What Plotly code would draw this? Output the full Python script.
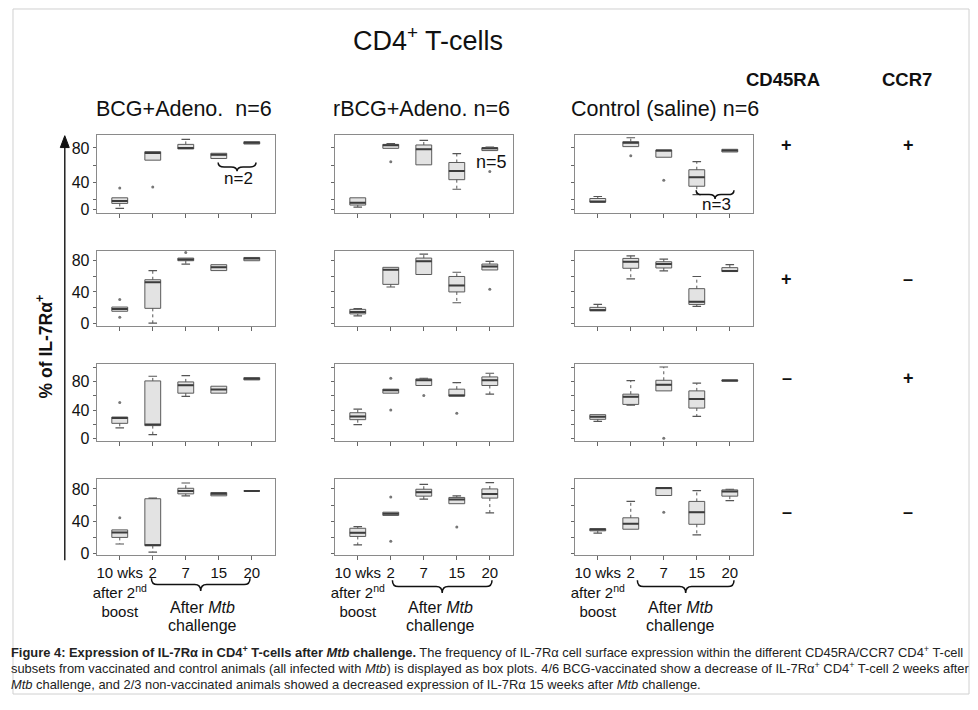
import plotly.graph_objects as go
from plotly.subplots import make_subplots

# page has an 8px body margin on every side; the figure fills the remaining area
OFF = 8
W, H = 978 - 2 * OFF, 710 - 2 * OFF
FONT = "Liberation Sans, Arial, sans-serif"

# ---------------- data ----------------
positions = [1, 2, 3, 4, 5]
x_tick_labels = ["10 wks<br>after 2<sup>nd</sup><br>boost", "2", "7", "15", "20"]
groups = ["BCG+Adeno. \u00a0n=6", "rBCG+Adeno. n=6", "Control (saline) n=6"]
subsets_cd45ra = ["+", "+", "\u2013", "\u2013"]
subsets_ccr7 = ["+", "\u2013", "+", "\u2013"]

# each panel: lists over the 5 time points -> (lower whisker, q1, median, q3, upper whisker)
# row 1 (CD45RA+ CCR7+)
r1c1_low = [9.9, 65.8, 78.8, 67.7, 84.5]
r1c1_q1 = [15.7, 65.8, 78.8, 67.7, 84.5]
r1c1_med = [18.4, 74.2, 79.9, 72.0, 86.0]
r1c1_q3 = [22.2, 75.7, 84.1, 73.8, 87.2]
r1c1_high = [22.2, 75.7, 89.9, 73.8, 87.2]
r1c1_out = [[33.6], [34.8], [], [], []]

r1c2_low = [11.5, 79.5, 60.4, 32.1, 76.9]
r1c2_q1 = [13.8, 79.5, 60.4, 43.2, 76.9]
r1c2_med = [16.4, 83.0, 78.4, 53.2, 79.5]
r1c2_q3 = [22.2, 84.1, 83.4, 63.1, 80.3]
r1c2_high = [22.2, 85.0, 88.7, 73.4, 81.0]
r1c2_out = [[], [64.0], [], [], [52.8]]

r1c3_low = [17.2, 81.5, 69.2, 26.0, 75.3]
r1c3_q1 = [17.2, 81.5, 69.2, 35.6, 75.3]
r1c3_med = [17.6, 86.0, 77.0, 45.9, 77.0]
r1c3_q3 = [21.4, 87.2, 77.6, 54.7, 78.4]
r1c3_high = [23.7, 91.8, 77.6, 64.2, 78.4]
r1c3_out = [[], [71.0], [42.4], [], []]

# row 2 (CD45RA+ CCR7-)
r2c1_low = [15.7, 0.8, 75.0, 66.8, 79.2]
r2c1_q1 = [15.7, 19.4, 79.2, 66.8, 79.2]
r2c1_med = [18.5, 52.0, 80.8, 70.9, 82.0]
r2c1_q3 = [21.0, 55.3, 82.5, 74.2, 83.3]
r2c1_high = [21.0, 66.8, 82.5, 74.2, 83.3]
r2c1_out = [[30.5, 8.2], [], [89.5], [], []]

r2c2_low = [9.9, 46.2, 61.9, 26.4, 67.6]
r2c2_q1 = [12.4, 49.5, 61.9, 40.0, 67.6]
r2c2_med = [14.8, 68.0, 78.4, 48.2, 71.8]
r2c2_q3 = [18.1, 70.9, 82.5, 59.4, 75.0]
r2c2_high = [19.0, 70.9, 87.4, 64.7, 78.4]
r2c2_out = [[], [], [], [], [43.3]]

r2c3_low = [16.5, 56.5, 66.4, 21.9, 65.6]
r2c3_q1 = [16.5, 69.7, 70.1, 24.3, 65.6]
r2c3_med = [17.0, 78.0, 75.0, 27.6, 66.4]
r2c3_q3 = [20.6, 82.1, 77.9, 44.1, 70.5]
r2c3_high = [24.3, 85.4, 81.2, 59.4, 74.2]
r2c3_out = [[], [], [], [], []]

# row 3 (CD45RA- CCR7+)
r3c1_low = [15.3, 6.0, 59.2, 63.8, 82.3]
r3c1_q1 = [21.7, 18.5, 63.8, 63.8, 82.3]
r3c1_med = [29.0, 19.9, 74.9, 68.9, 84.0]
r3c1_q3 = [30.5, 80.9, 79.5, 73.5, 85.5]
r3c1_high = [30.5, 87.4, 88.3, 73.5, 85.5]
r3c1_out = [[50.9], [], [], [], []]

r3c2_low = [19.9, 63.8, 74.5, 59.7, 62.4]
r3c2_q1 = [26.8, 63.8, 74.5, 59.7, 74.5]
r3c2_med = [31.4, 68.0, 81.8, 60.5, 81.8]
r3c2_q3 = [36.5, 69.4, 83.7, 69.4, 86.5]
r3c2_high = [41.6, 69.4, 84.6, 78.6, 91.6]
r3c2_out = [[], [84.6, 40.2], [60.6], [35.6], []]

r3c3_low = [24.5, 47.0, 67.0, 31.4, 80.5]
r3c3_q1 = [27.3, 48.1, 67.0, 43.0, 80.5]
r3c3_med = [31.0, 58.7, 75.4, 55.5, 81.4]
r3c3_q3 = [33.8, 62.4, 81.8, 67.0, 82.3]
r3c3_high = [33.8, 81.4, 100.3, 77.7, 82.3]
r3c3_out = [[], [], [1.0], [], []]

# row 4 (CD45RA- CCR7-)
r4c1_low = [12.1, 2.0, 71.5, 71.5, 77.6]
r4c1_q1 = [20.2, 10.1, 73.9, 71.5, 77.6]
r4c1_med = [26.3, 10.5, 77.6, 74.0, 77.6]
r4c1_q3 = [29.5, 67.9, 80.8, 75.6, 77.6]
r4c1_high = [29.5, 68.7, 87.3, 75.6, 77.6]
r4c1_out = [[44.4], [], [], [], []]

r4c2_low = [10.9, 47.3, 67.5, 61.8, 50.5]
r4c2_q1 = [21.4, 47.3, 71.1, 61.8, 68.7]
r4c2_med = [25.9, 49.3, 76.0, 67.1, 73.9]
r4c2_q3 = [31.5, 51.3, 79.6, 69.5, 80.0]
r4c2_high = [33.5, 51.3, 85.7, 71.5, 87.7]
r4c2_out = [[], [69.9, 15.4], [], [33.1], []]

r4c3_low = [25.5, 30.3, 71.9, 23.4, 65.5]
r4c3_q1 = [28.3, 30.3, 71.9, 36.4, 71.1]
r4c3_med = [29.9, 37.2, 81.0, 51.3, 76.8]
r4c3_q3 = [31.1, 44.4, 81.6, 64.6, 78.8]
r4c3_high = [31.1, 64.6, 81.6, 78.0, 79.6]
r4c3_out = [[], [], [51.3], [], []]

panels = [
    [(r1c1_low, r1c1_q1, r1c1_med, r1c1_q3, r1c1_high, r1c1_out),
     (r1c2_low, r1c2_q1, r1c2_med, r1c2_q3, r1c2_high, r1c2_out),
     (r1c3_low, r1c3_q1, r1c3_med, r1c3_q3, r1c3_high, r1c3_out)],
    [(r2c1_low, r2c1_q1, r2c1_med, r2c1_q3, r2c1_high, r2c1_out),
     (r2c2_low, r2c2_q1, r2c2_med, r2c2_q3, r2c2_high, r2c2_out),
     (r2c3_low, r2c3_q1, r2c3_med, r2c3_q3, r2c3_high, r2c3_out)],
    [(r3c1_low, r3c1_q1, r3c1_med, r3c1_q3, r3c1_high, r3c1_out),
     (r3c2_low, r3c2_q1, r3c2_med, r3c2_q3, r3c2_high, r3c2_out),
     (r3c3_low, r3c3_q1, r3c3_med, r3c3_q3, r3c3_high, r3c3_out)],
    [(r4c1_low, r4c1_q1, r4c1_med, r4c1_q3, r4c1_high, r4c1_out),
     (r4c2_low, r4c2_q1, r4c2_med, r4c2_q3, r4c2_high, r4c2_out),
     (r4c3_low, r4c3_q1, r4c3_med, r4c3_q3, r4c3_high, r4c3_out)],
]

# y axis settings per row: range, labelled ticks, unlabelled (minor) ticks
row_ranges = [[4.7, 95.3], [-2.5, 92.0], [-2.4, 104.0], [-2.0, 92.0]]
row_tickvals = [[9, 40, 80], [0, 40, 80], [0, 40, 80], [0, 40, 80]]
row_ticktext = [["0", "40", "80"]] * 4
row_minor = [[20, 60], [20, 60], [20, 60, 100], [20, 60]]

caption_lines = [
    "<b>Figure 4: Expression of IL-7R\u03b1 in CD4<sup>+</sup> T-cells after <i>Mtb</i> challenge.</b> "
    "The frequency of IL-7R\u03b1 cell surface expression within the different CD45RA/CCR7 CD4<sup>+</sup> T-cell",
    "subsets from vaccinated and control animals (all infected with <i>Mtb</i>) is displayed as box plots. "
    "4/6 BCG-vaccinated show a decrease of IL-7R\u03b1<sup>+</sup> CD4<sup>+</sup> T-cell 2 weeks after",
    "<i>Mtb</i> challenge, and 2/3 non-vaccinated animals showed a decreased expression of IL-7R\u03b1 15 weeks after <i>Mtb</i> challenge.",
]

# ---------------- layout geometry (pixels in the reference) ----------------
col_x = [(93, 272), (332, 511), (573, 752)]
row_y = [(136, 215), (253, 329), (368, 445), (484, 561)]


def px(x):
    return (x - OFF) / W


def py(y):
    return 1 - (y - OFF) / H


fig = make_subplots(rows=4, cols=3)

BOX_W = 0.48
CAP = 0.13
box_line = "#5a5a5a"
box_fill = "#e3e3e3"

for r in range(4):
    for c in range(3):
        low, q1, med, q3, high, outs = panels[r][c]
        fig.add_trace(go.Box(
            x=positions, q1=q1, median=med, q3=q3,
            lowerfence=q1, upperfence=q3,
            width=BOX_W, whiskerwidth=0,
            fillcolor=box_fill, line=dict(color=box_line, width=1),
            hoverinfo="skip", showlegend=False, boxpoints=False,
        ), row=r + 1, col=c + 1)
        # thick median bars (R style)
        mx, my = [], []
        for i, p in enumerate(positions):
            mx += [p - BOX_W / 2, p + BOX_W / 2, None]
            my += [med[i], med[i], None]
        fig.add_trace(go.Scatter(x=mx, y=my, mode="lines",
                                 line=dict(color="#3c3c3c", width=2),
                                 hoverinfo="skip", showlegend=False),
                      row=r + 1, col=c + 1)
        wx, wy, cx, cy = [], [], [], []
        for i, p in enumerate(positions):
            if high[i] > q3[i] + 0.3:
                wx += [p, p, None]
                wy += [q3[i], high[i], None]
                cx += [p - CAP, p + CAP, None]
                cy += [high[i], high[i], None]
            if low[i] < q1[i] - 0.3:
                wx += [p, p, None]
                wy += [q1[i], low[i], None]
                cx += [p - CAP, p + CAP, None]
                cy += [low[i], low[i], None]
        if wx:
            fig.add_trace(go.Scatter(x=wx, y=wy, mode="lines",
                                     line=dict(color="#555", width=1, dash="dot"),
                                     hoverinfo="skip", showlegend=False),
                          row=r + 1, col=c + 1)
            fig.add_trace(go.Scatter(x=cx, y=cy, mode="lines",
                                     line=dict(color="#555", width=1.2),
                                     hoverinfo="skip", showlegend=False),
                          row=r + 1, col=c + 1)
        ox, oy = [], []
        for i, p in enumerate(positions):
            for v in outs[i]:
                ox.append(p)
                oy.append(v)
        if ox:
            fig.add_trace(go.Scatter(x=ox, y=oy, mode="markers",
                                     marker=dict(color="#777", size=3),
                                     hoverinfo="skip", showlegend=False),
                          row=r + 1, col=c + 1)

        k = r * 3 + c + 1
        xa = "xaxis" if k == 1 else f"xaxis{k}"
        ya = "yaxis" if k == 1 else f"yaxis{k}"
        x0, x1 = col_x[c]
        y0, y1 = row_y[r]
        fig.layout[xa].update(
            domain=[px(x0), px(x1)], range=[0.3, 5.7],
            tickvals=positions, ticktext=x_tick_labels, tickangle=0,
            showticklabels=(r == 3), ticks="outside", ticklen=4, tickcolor="#666",
            showline=True, linecolor="#8a8a8a", linewidth=1, mirror=True,
            showgrid=False, zeroline=False,
            tickfont=dict(family=FONT, size=15, color="#111"),
        )
        fig.layout[ya].update(
            domain=[py(y1), py(y0)], range=row_ranges[r],
            tickvals=row_tickvals[r], ticktext=row_ticktext[r],
            minor=dict(tickvals=row_minor[r], ticks="outside", ticklen=3, tickcolor="#666", showgrid=False),
            showticklabels=(c == 0), ticks="outside", ticklen=3, tickcolor="#666",
            showline=True, linecolor="#8a8a8a", linewidth=1, mirror=True,
            showgrid=False, zeroline=False,
            tickfont=dict(family=FONT, size=16, color="#111"),
        )

annotations = []


def txt(x, y, text, size, bold=False, xanchor="center", yanchor="middle", color="#111", **kw):
    if bold:
        text = f"<b>{text}</b>"
    annotations.append(dict(x=px(x), y=py(y), xref="paper", yref="paper", text=text,
                            showarrow=False, xanchor=xanchor, yanchor=yanchor,
                            font=dict(family=FONT, size=size, color=color), **kw))


txt(426, 39, "CD4<sup>+</sup> T-cells", 27)
txt(782, 80, "CD45RA", 18.5, bold=True)
txt(907, 80, "CCR7", 18.5, bold=True)
for c, g in enumerate(groups):
    txt([181, 419, 664][c], 110, g, 21.5)

sign_y = [146, 282, 382, 517]
for r in range(4):
    txt(786, sign_y[r], subsets_cd45ra[r], 18, bold=True)
    txt(908, sign_y[r], subsets_ccr7[r], 18, bold=True)

# y axis title
txt(40, 350, "% of IL-7R\u03b1<sup>+</sup>", 17.5, bold=True, textangle=-90)

# n labels
txt(235, 180, "n=2", 17)
txt(489, 164, "n=5", 18)
txt(715, 207, "n=3", 17)

# After Mtb challenge
for c in range(3):
    x0, x1 = col_x[c]
    cx = x0 + (3.5 - 0.3) / 5.4 * (x1 - x0)
    txt(cx, 614, "After <i>Mtb</i>", 16)
    txt(cx, 632, "challenge", 16)

for i, line in enumerate(caption_lines):
    txt(5, 659 + 16 * i, line, 12.9, xanchor="left", color="#222")

fig.update_layout(annotations=annotations)


def brace(x1, x2, yt, yb):
    xm = (x1 + x2) / 2
    ym = (yt + yb) / 2
    e = min(6, (x2 - x1) / 6)
    pts = lambda x, y: f"{px(x)},{py(y)}"
    return (f"M {pts(x1, yt)} Q {pts(x1, ym)} {pts(x1 + e, ym)} L {pts(xm - e, ym)} "
            f"Q {pts(xm, ym)} {pts(xm, yb)} Q {pts(xm, ym)} {pts(xm + e, ym)} "
            f"L {pts(x2 - e, ym)} Q {pts(x2, ym)} {pts(x2, yt)}")


shapes = []
for (a, b, t, u) in [(215, 253, 164, 173), (695, 733, 192, 201),
                     (148, 247, 584, 597), (390, 490, 586, 599), (636, 733, 586, 599)]:
    shapes.append(dict(type="path", path=brace(a, b, t, u), xref="paper", yref="paper",
                       line=dict(color="#111", width=1.5)))
# vertical arrow beside the y title
shapes.append(dict(type="line", xref="paper", yref="paper", x0=px(61), x1=px(61), y0=py(566), y1=py(146),
                   line=dict(color="#222", width=1.5)))
shapes.append(dict(type="path", xref="paper", yref="paper",
                   path=f"M {px(56.5)},{py(149)} L {px(65.5)},{py(149)} L {px(61)},{py(137)} Z",
                   fillcolor="#111", line=dict(color="#111", width=1)))
# outer frame
shapes.append(dict(type="rect", xref="paper", yref="paper", x0=px(9), x1=px(969), y0=py(701), y1=py(9),
                   line=dict(color="#d0d0d0", width=1)))
fig.update_layout(shapes=shapes)

fig.update_layout(width=W, height=H, margin=dict(l=0, r=0, t=0, b=0),
                  paper_bgcolor="white", plot_bgcolor="white", showlegend=False,
                  font=dict(family=FONT))

fig.write_html("out.html")
